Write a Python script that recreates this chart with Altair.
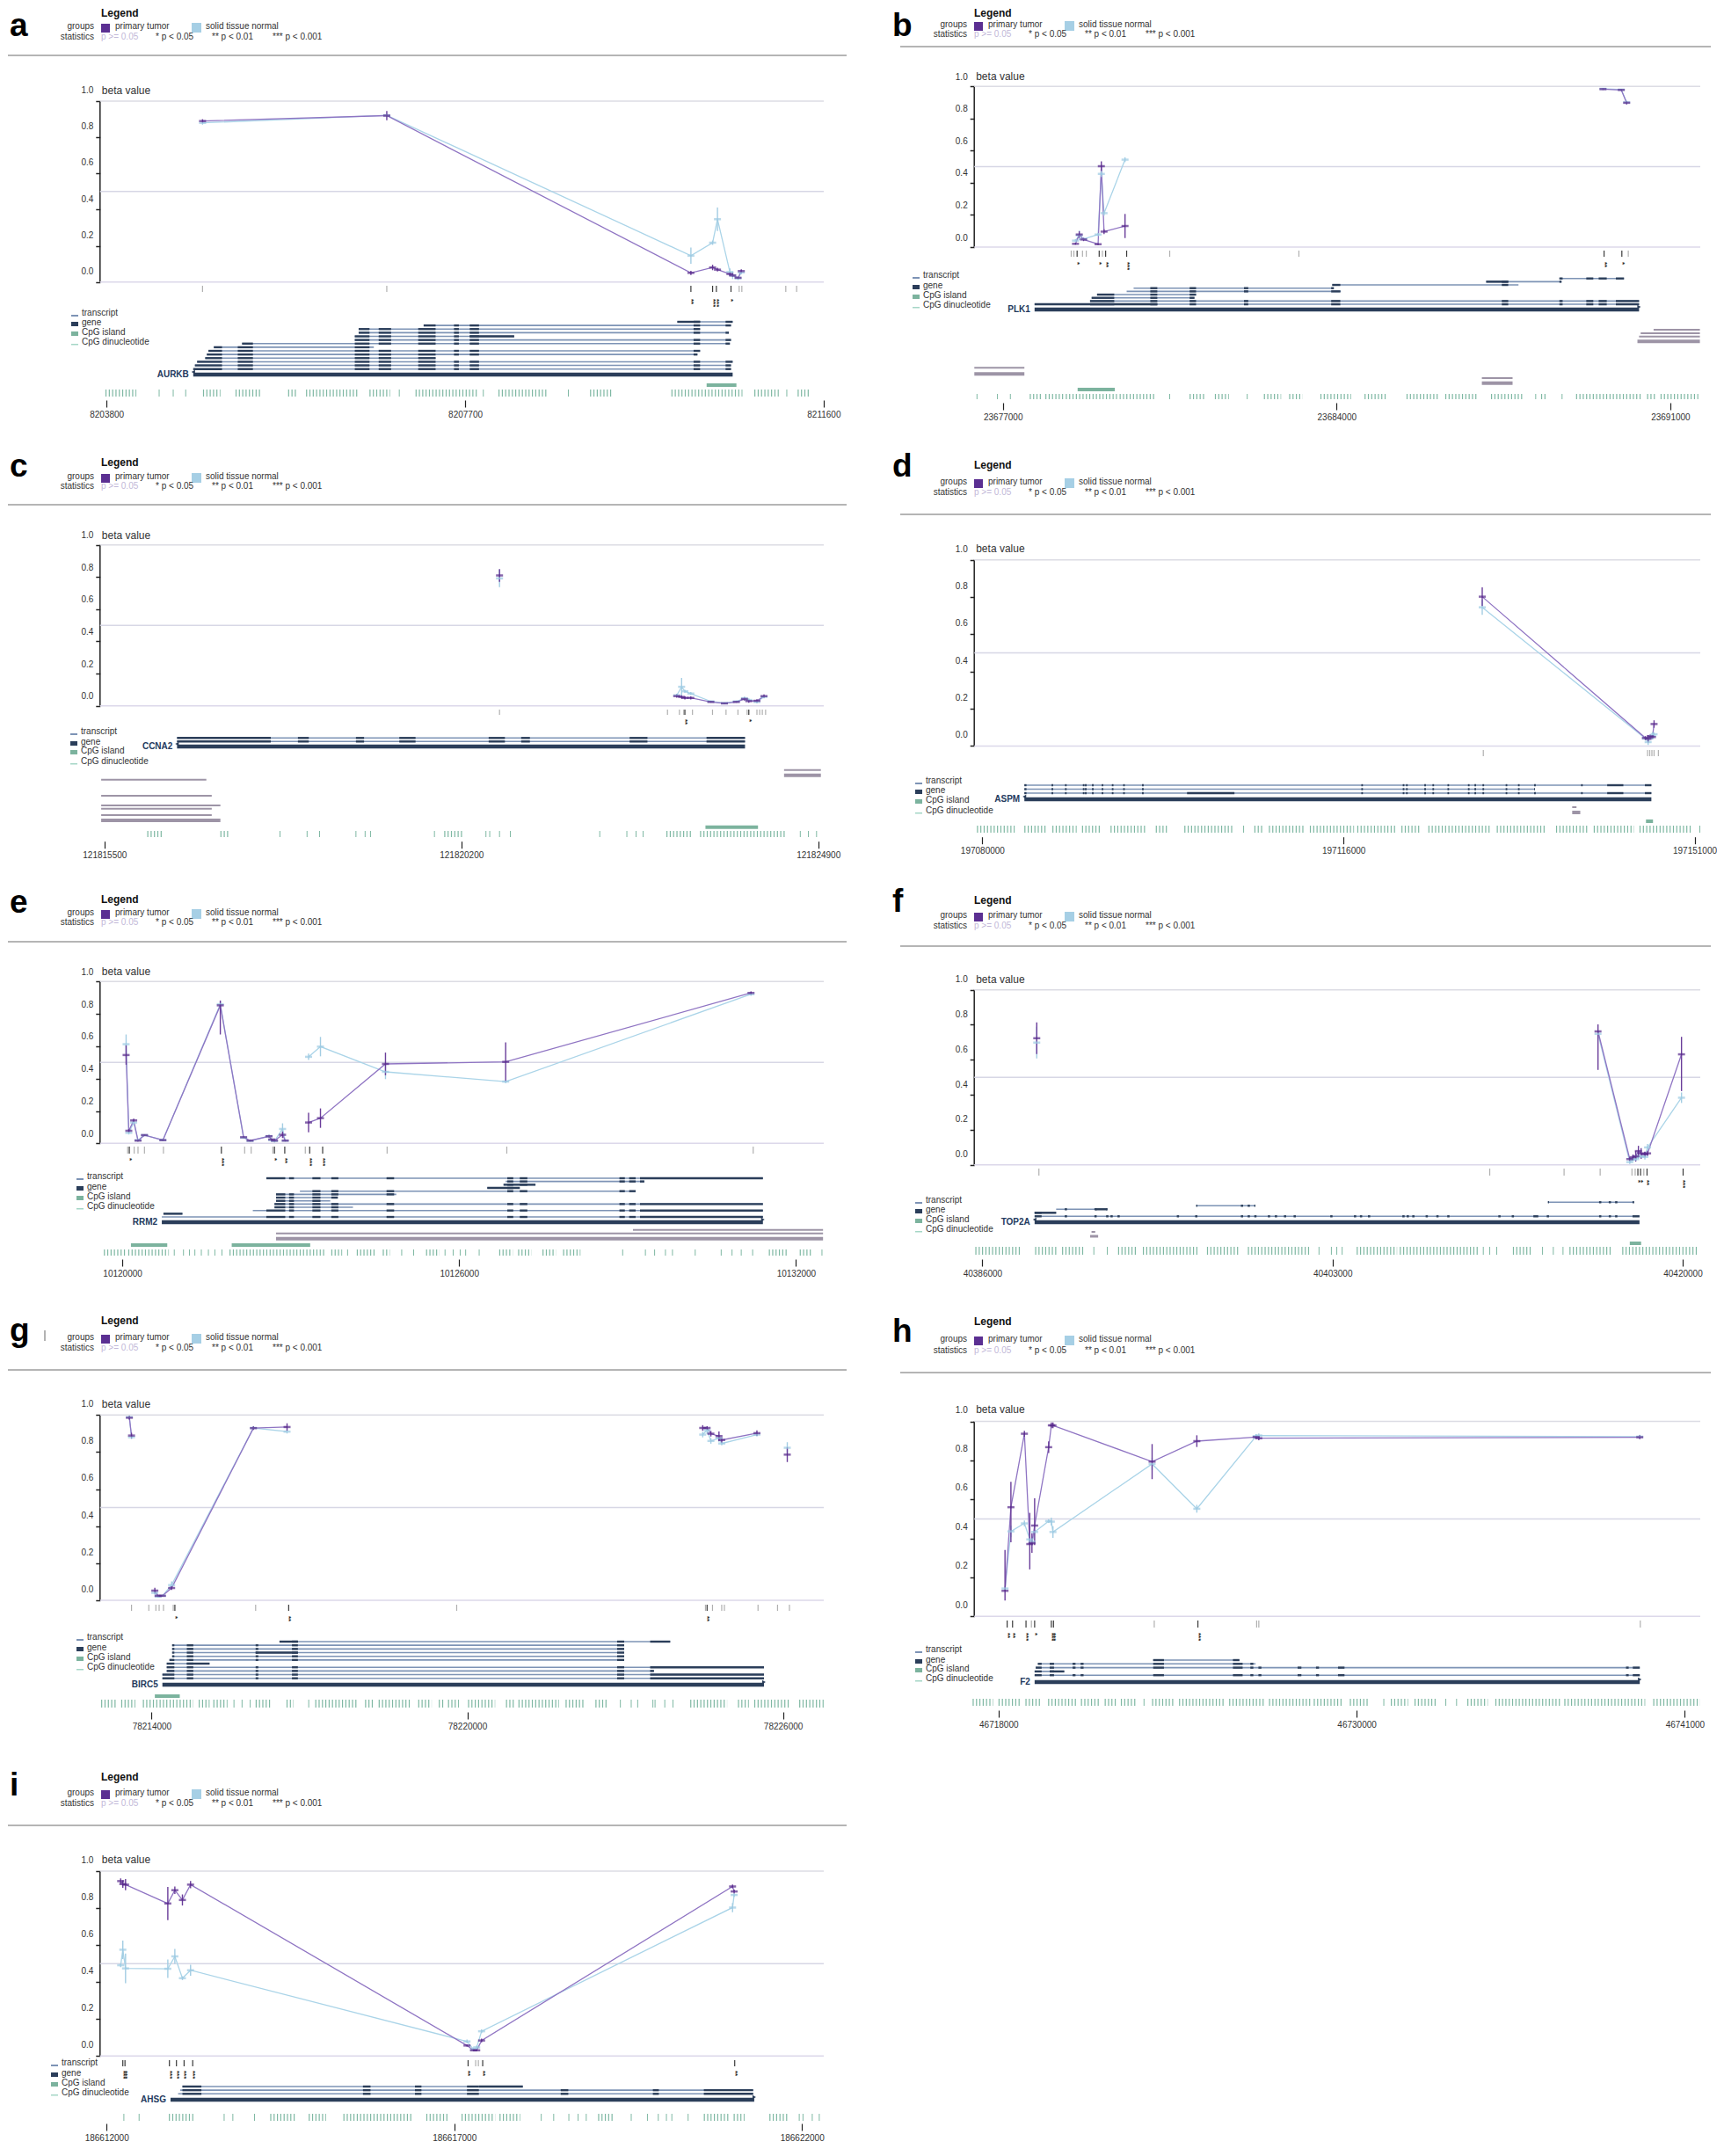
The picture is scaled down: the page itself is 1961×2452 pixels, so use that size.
import altair as alt
import pandas as pd

# ------------------------------------------------------------------ data
# panel a  AURKB
A_TICKS = [8203800, 8207700, 8211600]
A_POS = [8204844, 8206848, 8210156, 8210392, 8210445, 8210580, 8210610, 8210669, 8210704]
A_TUMOR = [0.83, 0.86, -0.01, 0.02, 0.008, -0.016, -0.024, -0.037, 0.0]
A_NORMAL = [0.82, 0.862, 0.085, 0.157, 0.287, -0.005, -0.024, -0.04, -0.008]
A_TUMOR_ERR = [0.01, 0.026, 0.012, 0.015, 0.01, 0.01, 0.008, 0.006, 0.01]
A_NORMAL_ERR = [0.01, 0.01, 0.045, 0.012, 0.065, 0.02, 0.02, 0.01, 0.01]
A_SEG = [1, 1, 1, 1, 1, 1, 1, 1, 1]
A_PROBES = [8204844, 8206848, 8210156, 8210392, 8210433, 8210592, 8210681, 8210710, 8211188, 8211306]
A_STARS = ['', '', '**', '***', '***', '*', '', '', '', '']
A_TX = [(8210008, 8210610), (8207249, 8210592), (8206542, 8210256), (8206542, 8210569), (8206500, 8208234),
        (8206500, 8210592), (8205274, 8210580), (8204967, 8206707), (8204908, 8210256), (8204891, 8210227),
        (8204873, 8207379), (8204785, 8210610), (8204761, 8210592), (8204743, 8210592)]
A_EXONS = [(8204743, 8205056), (8205227, 8205392), (8206500, 8206660), (8206760, 8206895), (8207190, 8207379),
           (8207579, 8207632), (8207750, 8207851), (8210185, 8210256), (8210533, 8210610)]
A_EXTRA = [(0, 8210008, 8210256), (4, 8207750, 8208234)]
A_GENE = (8204743, 8210610)
A_ISLANDS = [(8210327, 8210651)]
A_OTHER = []
A_CPG = [8204372, 8204525, 8204661, 8206984, 8207898, 8208823, 8211199]
A_CPG_RUNS = [(8203788, 8204124), (8204849, 8205038), (8205203, 8205492), (8205775, 8205881), (8205970, 8206542),
              (8206660, 8206884), (8207161, 8207839), (8208063, 8208593), (8209059, 8209295), (8209944, 8210716),
              (8210846, 8211111), (8211317, 8211447)]

# panel b  PLK1
B_TICKS = [23677000, 23684000, 23691000]
B_POS = [23678524, 23678603, 23678694, 23678998, 23679066, 23679123, 23679563, 23689588, 23689972, 23690085]
B_TUMOR = [-0.04, 0.018, -0.013, -0.042, 0.443, 0.036, 0.071, 0.923, 0.918, 0.838]
B_NORMAL = [-0.02, 0.013, -0.01, 0.018, 0.396, 0.151, 0.484, 0.925, 0.92, 0.841]
B_TUMOR_ERR = [0.005, 0.02, 0.01, 0.005, 0.03, 0.015, 0.075, 0.005, 0.005, 0.01]
B_NORMAL_ERR = [0.01, 0.03, 0.01, 0.01, 0.02, 0.015, 0.015, 0.005, 0.005, 0.01]
B_SEG = [1, 1, 1, 1, 1, 1, 1, 2, 2, 2]
B_PROBES = [23678434, 23678490, 23678558, 23678671, 23678750, 23679021, 23679089, 23679156, 23679597, 23680500,
            23683210, 23689611, 23689984, 23690119]
B_STARS = ['', '', '*', '', '', '*', '', '**', '***', '', '', '**', '*', '']
B_TX = [(23688674, 23690029), (23687138, 23688719), (23683909, 23687816), (23679743, 23683943), (23679597, 23684090),
        (23678976, 23681053), (23678863, 23681019), (23678829, 23690345), (23677666, 23690345)]
B_EXONS = [(23678829, 23679337), (23680093, 23680240), (23680918, 23681053), (23682058, 23682148), (23683887, 23684079),
           (23687466, 23687601), (23688674, 23688742), (23689238, 23689385), (23689498, 23689667), (23689859, 23690345)]
B_EXTRA = [(8, 23677666, 23680240), (1, 23687138, 23687601)]
B_GENE = (23677666, 23690345)
B_ISLANDS = [(23678569, 23679348)]
B_OTHER = [(23690650, 23691621, 0, 2), (23690379, 23691621, 1, 2), (23690345, 23691621, 2, 2), (23690311, 23691621, 3, 4),
           (23676402, 23677452, 4, 2), (23676402, 23677452, 5, 4), (23687048, 23687692, 6, 2), (23687048, 23687692, 7, 4)]
B_CPG = [23676458, 23676887, 23677158, 23680500, 23682126, 23688177, 23688730]
B_CPG_RUNS = [(23677565, 23677813), (23677892, 23678264), (23678321, 23679393), (23679450, 23680206), (23680918, 23681256),
              (23681448, 23681742), (23682476, 23682837), (23683006, 23683289), (23683661, 23684305), (23684587, 23685038),
              (23685468, 23686167), (23686280, 23686958), (23687240, 23687917), (23688290, 23688425), (23689024, 23690401),
              (23690514, 23690683), (23690796, 23691587)]

# panel c  CCNA2
C_TICKS = [121815500, 121820200, 121824900]
C_POS = [121820703, 121823037, 121823101, 121823144, 121823222, 121823486, 121823665, 121823822, 121823929,
         121823986, 121824093, 121824186]
C_TUMOR = [0.75, 0.0, -0.005, -0.011, -0.011, -0.036, -0.045, -0.036, -0.018, -0.031, -0.029, 0.0]
C_NORMAL = [0.732, 0.005, 0.058, 0.03, 0.016, -0.033, -0.044, -0.033, -0.013, -0.024, -0.036, -0.004]
C_TUMOR_ERR = [0.04, 0.01, 0.01, 0.01, 0.01, 0.005, 0.005, 0.005, 0.01, 0.01, 0.01, 0.01]
C_NORMAL_ERR = [0.055, 0.01, 0.055, 0.01, 0.01, 0.005, 0.005, 0.005, 0.01, 0.01, 0.01, 0.01]
C_SEG = [1, 2, 2, 2, 2, 2, 2, 2, 2, 2, 2, 2]
C_PROBES = [121820703, 121822915, 121823072, 121823129, 121823144, 121823244, 121823508, 121823686, 121823843,
            121823964, 121823986, 121824093, 121824129, 121824164, 121824207]
C_STARS = ['', '', '', '', '**', '', '', '', '', '', '*', '', '', '', '']
C_TX = [(121816456, 121823936), (121816456, 121823936)]
C_EXONS = [(121816456, 121817691), (121818048, 121818191), (121818812, 121818919), (121819383, 121819597),
           (121820560, 121820774), (121820988, 121821103), (121822416, 121822651), (121823429, 121823936)]
C_EXTRA = []
C_GENE = (121816456, 121823936)
C_ISLANDS = [(121823415, 121824107)]
C_OTHER = [(121824450, 121824935, 0, 2), (121824450, 121824935, 1, 4), (121815457, 121816842, 2, 2),
           (121815457, 121816913, 3, 2), (121815457, 121817027, 4, 2), (121815457, 121816913, 5, 2),
           (121815457, 121816913, 6, 2), (121815457, 121817027, 7, 4)]
C_CPG = [121817812, 121818169, 121818333, 121818812, 121818933, 121819004, 121819846, 121820524, 121820574,
         121820703, 121820846, 121822023, 121822380, 121822501, 121822594, 121824664, 121824771, 121824878]
C_CPG_RUNS = [(121816064, 121816278), (121817027, 121817134), (121819975, 121820239), (121822901, 121823237),
              (121823344, 121824464)]

# panel d  ASPM
D_TICKS = [197080000, 197116000, 197151000]
D_POS = [197129834, 197146105, 197146373, 197146588, 197146803, 197146964]
D_TUMOR = [0.742, -0.017, -0.021, -0.008, -0.012, 0.058]
D_NORMAL = [0.685, -0.02, -0.039, -0.017, -0.005, 0.003]
D_TUMOR_ERR = [0.05, 0.01, 0.02, 0.01, 0.01, 0.02]
D_NORMAL_ERR = [0.04, 0.01, 0.015, 0.01, 0.02, 0.01]
D_SEG = [1, 1, 1, 1, 1, 1]
D_PROBES = [197129941, 197146319, 197146534, 197146749, 197146964, 197147394]
D_STARS = ['', '', '', '', '', '']
D_TX = [(197084189, 197146695), (197084189, 197135096), (197084189, 197146695)]
D_EXONS = [(197084189, 197084400), (197086900, 197087060), (197088240, 197088400), (197090020, 197090180),
           (197090230, 197090390), (197090930, 197091090), (197091900, 197092060), (197092910, 197093070),
           (197094040, 197094200), (197095920, 197096080), (197117780, 197117940), (197121910, 197122070),
           (197122240, 197122400), (197124060, 197124220), (197124870, 197125030), (197126370, 197126530),
           (197128410, 197128570), (197129060, 197129220), (197129860, 197130020), (197132170, 197132330),
           (197133400, 197133560), (197135010, 197135170), (197139690, 197139850), (197142292, 197143903),
           (197146051, 197146695)]
D_EXTRA = [(2, 197100406, 197105132)]
D_GENE = (197084189, 197146695)
D_ISLANDS = [(197146158, 197146857)]
D_OTHER = [(197138802, 197139231, 0, 2), (197138802, 197139607, 1, 4)]
D_CPG = [197106045, 197151528]
D_CPG_RUNS = [(197079463, 197083222), (197084189, 197086444), (197086981, 197089398), (197089935, 197091814),
              (197092781, 197096379), (197097291, 197098527), (197100138, 197105132), (197107119, 197108031),
              (197108568, 197112220), (197112650, 197117053), (197117375, 197121349), (197121779, 197123604),
              (197124464, 197130747), (197131284, 197136278), (197137191, 197140413), (197140950, 197144977),
              (197145514, 197150616)]

# panel e  RRM2
E_TICKS = [10120000, 10126000, 10132000]
E_POS = [10120068, 10120116, 10120203, 10120280, 10120395, 10120723, 10121746, 10122161, 10122276, 10122614,
         10122662, 10122711, 10122855, 10122903, 10123318, 10123530, 10124688, 10126829, 10131199]
E_TUMOR = [0.486, 0.018, 0.082, -0.043, -0.009, -0.04, 0.793, -0.022, -0.043, -0.016, -0.036, -0.043, -0.007,
           -0.043, 0.069, 0.096, 0.431, 0.444, 0.87]
E_NORMAL = [0.553, 0.005, 0.069, -0.04, -0.009, -0.04, 0.80, -0.025, -0.045, -0.015, -0.04, -0.045, 0.029,
            -0.043, 0.475, 0.538, 0.382, 0.322, 0.862]
E_TUMOR_ERR = [0.06, 0.01, 0.01, 0.005, 0.005, 0.005, (0.18, 0.03), 0.005, 0.005, 0.008, 0.005, 0.005, 0.02,
               0.005, 0.06, 0.06, 0.07, 0.12, 0.01]
E_NORMAL_ERR = [0.06, 0.01, 0.01, 0.005, 0.005, 0.005, 0.02, 0.005, 0.005, 0.008, 0.01, 0.01, 0.035, 0.005,
                0.02, 0.06, 0.045, 0.01, 0.01]
E_SEG = [1, 1, 1, 1, 1, 1, 1, 1, 1, 1, 1, 1, 1, 1, 2, 2, 2, 2, 2]
E_PROBES = [10120096, 10120125, 10120212, 10120280, 10120395, 10120733, 10121765, 10122180, 10122296, 10122682,
            10122711, 10122894, 10123260, 10123338, 10123569, 10124717, 10126849, 10131238]
E_STARS = ['', '*', '', '', '', '', '***', '', '', '', '*', '**', '', '***', '***', '', '', '']
E_TX = [(10122566, 10131411), (10126829, 10129299), (10126791, 10127360), (10126501, 10127080), (10123164, 10129144),
        (10122739, 10124881), (10122739, 10123839), (10122739, 10123704), (10122711, 10131411), (10122711, 10124109),
        (10122325, 10131411), (10120733, 10121071), (10120704, 10131411)]
E_EXONS = [(10122566, 10122903), (10122971, 10123058), (10123386, 10123530), (10123723, 10123849), (10124707, 10124842),
           (10126858, 10126964), (10127080, 10127215), (10128855, 10128952), (10129029, 10129144), (10129222, 10131411)]
E_EXTRA = [(11, 10120733, 10121071), (2, 10126791, 10127360), (3, 10126501, 10127080)]
E_GENE = (10120704, 10131411)
E_ISLANDS = [(10120154, 10120801), (10121949, 10123347)]
E_OTHER = [(10129096, 10132482, 0, 2), (10122739, 10132482, 1, 2), (10122739, 10132482, 2, 4)]
E_CPG = [10120926, 10121090, 10121196, 10121293, 10121408, 10121534, 10121649, 10121775, 10124013, 10124977,
         10125190, 10125749, 10125894, 10126019, 10126116, 10126357, 10128913, 10129318, 10129482, 10129675,
         10129800, 10130205, 10130668, 10130861, 10131025, 10131228, 10132463]
E_CPG_RUNS = [(10119672, 10120058), (10120106, 10120830), (10121910, 10123627), (10123723, 10123916),
              (10124177, 10124495), (10124640, 10124765), (10125411, 10125652), (10126714, 10126955),
              (10127051, 10127292), (10127485, 10127726), (10127852, 10128161), (10131517, 10131874),
              (10132067, 10132279)]

# panel f  TOP2A
F_TICKS = [40386000, 40403000, 40420000]
F_POS = [40388641, 40415889, 40417432, 40417589, 40417720, 40417851, 40417982, 40418165, 40418296, 40419943]
F_TUMOR = [0.663, 0.702, -0.028, -0.017, -0.012, 0.018, 0.005, 0.0, 0.005, 0.571]
F_NORMAL = [0.638, 0.688, -0.045, -0.03, -0.028, -0.012, -0.012, -0.015, 0.039, 0.323]
F_TUMOR_ERR = [0.09, (0.22, 0.04), 0.01, 0.015, 0.03, 0.03, 0.03, 0.015, 0.015, (0.21, 0.1)]
F_NORMAL_ERR = [0.09, 0.02, 0.01, 0.01, 0.01, 0.015, 0.015, 0.015, 0.02, 0.03]
F_SEG = [1, 2, 2, 2, 2, 2, 2, 2, 2, 2]
F_PROBES = [40388746, 40410633, 40414242, 40415994, 40417537, 40417694, 40417825, 40417956, 40418113, 40418269,
            40420021]
F_STARS = ['', '', '', '', '', '', '*', '*', '', '**', '***']
F_TX = [(40413458, 40417642), (40396382, 40399258), (40389583, 40392067), (40388537, 40389583), (40388537, 40417903)]
F_EXONS = [(40388537, 40388877), (40390000, 40390110), (40391440, 40391550), (40392010, 40392120), (40392220, 40392330),
           (40392560, 40392670), (40395440, 40395550), (40396330, 40396440), (40398550, 40398660), (40398880, 40398990),
           (40399200, 40399310), (40399860, 40399970), (40400200, 40400310), (40400640, 40400750), (40401110, 40401220),
           (40402890, 40403000), (40404040, 40404150), (40404330, 40404440), (40404720, 40404830), (40406390, 40406500),
           (40406600, 40406710), (40406870, 40406980), (40407520, 40407630), (40408040, 40408150), (40408570, 40408680),
           (40411050, 40411160), (40411700, 40411810), (40412750, 40412990), (40413400, 40413510), (40415940, 40416050),
           (40416410, 40416520), (40416720, 40416830), (40417564, 40417903)]
F_EXTRA = [(2, 40391492, 40392067), (3, 40388537, 40389583)]
F_GENE = (40388537, 40417903)
F_ISLANDS = [(40417432, 40417982)]
F_OTHER = [(40391300, 40391480, 0, 2), (40391230, 40391622, 1, 3)]
F_CPG = [40391413, 40392067, 40402344, 40402945, 40403207, 40403468, 40410320, 40410633, 40410973, 40413196,
         40413719, 40414190]
F_CPG_RUNS = [(40385660, 40387831), (40388563, 40389661), (40389870, 40390969), (40392590, 40393453),
              (40393793, 40396460), (40396905, 40398421), (40398892, 40401952), (40404174, 40406136),
              (40406266, 40410058), (40411758, 40412621), (40414504, 40416596), (40417066, 40420780)]

# panel g  BIRC5
G_TICKS = [78214000, 78220000, 78226000]
G_POS = [78213578, 78213619, 78214062, 78214124, 78214206, 78214381, 78215936, 78216575, 78224475, 78224558,
         78224630, 78224784, 78224836, 78225505, 78226082]
G_TUMOR = [0.925, 0.829, -0.008, -0.036, -0.036, 0.006, 0.869, 0.875, 0.87, 0.87, 0.839, 0.826, 0.805, 0.842, 0.726]
G_NORMAL = [0.928, 0.82, -0.02, -0.04, -0.036, 0.022, 0.87, 0.85, 0.834, 0.858, 0.80, 0.815, 0.786, 0.834, 0.763]
G_TUMOR_ERR = [0.01, 0.015, 0.015, 0.005, 0.005, 0.01, 0.01, 0.02, 0.015, 0.01, 0.015, 0.025, 0.015, 0.015, 0.04]
G_NORMAL_ERR = [0.01, 0.01, 0.01, 0.005, 0.005, 0.02, 0.01, 0.01, 0.015, 0.02, 0.015, 0.02, 0.01, 0.01, 0.03]
G_SEG = [1, 1, 2, 2, 2, 2, 2, 2, 3, 3, 3, 3, 3, 3, 4]
G_PROBES = [78213619, 78213948, 78214082, 78214144, 78214227, 78214412, 78214443, 78215978, 78216606, 78219799,
            78224527, 78224558, 78224661, 78224836, 78224887, 78225526, 78225897, 78226123]
G_STARS = ['', '', '', '', '', '', '*', '', '**', '', '', '**', '', '', '', '', '', '']
G_TX = [(78216431, 78223857), (78214391, 78222982), (78214391, 78222982), (78214391, 78222982), (78214391, 78222982),
        (78214340, 78222982), (78214288, 78215102), (78214288, 78225639), (78214288, 78223548), (78214206, 78225639),
        (78214206, 78225639)]
G_EXONS = [(78214206, 78214433), (78214670, 78214793), (78215978, 78216029), (78216668, 78216781),
           (78222848, 78222982), (78223476, 78225639)]
G_EXTRA = [(0, 78216431, 78216781), (3, 78215978, 78216781), (6, 78214670, 78215102)]
G_GENE = (78214206, 78225639)
G_ISLANDS = [(78214062, 78214536)]
G_OTHER = []
G_CPG = [78215566, 78215720, 78215875, 78216987, 78222910, 78223116, 78223239, 78223528, 78223569, 78223754,
         78223909]
G_CPG_RUNS = [(78213042, 78213320), (78213423, 78213691), (78213835, 78214793), (78214896, 78215102),
              (78215174, 78215442), (78215978, 78216256), (78216565, 78216699), (78217111, 78217935),
              (78218058, 78218223), (78218316, 78218913), (78219068, 78219325), (78219459, 78219562),
              (78219634, 78219840), (78220015, 78220530), (78220736, 78220901), (78220973, 78221746),
              (78221869, 78222230), (78222436, 78222673), (78224238, 78224939), (78225145, 78225351),
              (78225454, 78226123), (78226309, 78226772)]

# panel h  F2
H_TICKS = [46718000, 46730000, 46741000]
H_POS = [46718217, 46718415, 46718867, 46719047, 46719120, 46719210, 46719680, 46719770, 46719824, 46723147,
         46724646, 46726633, 46726723, 46739491]
H_TUMOR = [0.071, 0.50, 0.877, 0.311, 0.316, 0.406, 0.808, 0.92, 0.92, 0.734, 0.839, 0.86, 0.854, 0.859]
H_NORMAL = [0.083, 0.376, 0.417, 0.335, 0.323, 0.373, 0.429, 0.426, 0.373, 0.722, 0.492, 0.865, 0.868, 0.862]
H_TUMOR_ERR = [(0.05, 0.21), (0.18, 0.13), 0.015, (0.13, 0.16), 0.05, (0.1, 0.14), 0.03, 0.015, 0.015, 0.09,
               0.03, 0.01, 0.01, 0.01]
H_NORMAL_ERR = [0.01, 0.03, 0.015, 0.02, 0.02, 0.01, 0.01, 0.02, 0.03, 0.03, 0.02, 0.01, 0.01, 0.01]
H_SEG = [1, 1, 1, 1, 1, 1, 1, 1, 1, 1, 1, 1, 1, 1]
H_PROBES = [46718289, 46718470, 46718921, 46719102, 46719210, 46719770, 46719842, 46723219, 46724682, 46726651,
            46726723, 46739509]
H_STARS = ['**', '**', '***', '', '*', '***', '***', '', '***', '', '', '']
H_TX = [(46723183, 46726073), (46719318, 46726615), (46719246, 46739491), (46719210, 46720203), (46719210, 46739491)]
H_EXONS = [(46719210, 46719445), (46719716, 46719860), (46720480, 46720580), (46720750, 46720850), (46723183, 46723544),
           (46725856, 46726181), (46726440, 46726540), (46726710, 46726810), (46728023, 46728150), (46728640, 46728740),
           (46729378, 46729595), (46739030, 46739120), (46739257, 46739491)]
H_EXTRA = [(3, 46719716, 46720203)]
H_GENE = (46719210, 46739491)
H_ISLANDS = []
H_OTHER = []
H_CPG = [46722876, 46730913, 46732990, 46733351]
H_CPG_RUNS = [(46717133, 46717819), (46718000, 46718759), (46718903, 46719445), (46719662, 46720619),
              (46720763, 46721431), (46721558, 46721973), (46722100, 46722605), (46723147, 46723924),
              (46724050, 46725585), (46725730, 46726886), (46727066, 46728475), (46728565, 46729558),
              (46729775, 46730425), (46731148, 46731726), (46731942, 46732719), (46733712, 46734398),
              (46734651, 46736819), (46736963, 46739672), (46739943, 46741514)]

# panel i  AHSG
I_TICKS = [186612000, 186617000, 186622000]
I_POS = [186612203, 186612234, 186612273, 186612881, 186612982, 186613091, 186613208, 186617183, 186617277,
         186617323, 186617393, 186621002, 186621025]
I_TUMOR = [0.886, 0.87, 0.867, 0.765, 0.837, 0.784, 0.867, -0.003, -0.029, -0.029, 0.024, 0.857, 0.83]
I_NORMAL = [0.431, 0.515, 0.414, 0.412, 0.479, 0.361, 0.404, 0.019, -0.024, -0.013, 0.074, 0.743, 0.811]
I_TUMOR_ERR = [0.015, 0.02, 0.03, 0.09, 0.02, 0.03, 0.02, 0.005, 0.005, 0.005, 0.01, 0.01, 0.01]
I_NORMAL_ERR = [0.01, 0.05, 0.08, 0.05, 0.04, 0.01, 0.03, 0.01, 0.01, 0.01, 0.01, 0.025, 0.01]
I_SEG = [1, 1, 1, 1, 1, 1, 1, 1, 1, 1, 1, 1, 1]
I_PROBES = [186612234, 186612265, 186612904, 186613005, 186613115, 186613239, 186617199, 186617308, 186617347,
            186617409, 186621033]
I_STARS = ['***', '***', '***', '***', '***', '***', '**', '', '', '**', '**']
I_TX = [(186613091, 186617986), (186613060, 186621298), (186613029, 186621298)]
I_EXONS = [(186613091, 186613364), (186615687, 186615796), (186616435, 186616528), (186617183, 186617354),
           (186618531, 186618640), (186619856, 186619942), (186620589, 186621298)]
I_EXTRA = [(0, 186617354, 186617986)]
I_GENE = (186612920, 186621314)
I_ISLANDS = []
I_OTHER = []
I_CPG = [186612249, 186612468, 186613691, 186613816, 186614128, 186618251, 186618430, 186618648, 186618781,
         186618898, 186619545, 186619778, 186619934, 186620051, 186620129, 186620363, 186621961, 186622015,
         186622148, 186622249]
I_CPG_RUNS = [(186612896, 186613247), (186614354, 186614728), (186614907, 186615157), (186615406, 186616404),
              (186616598, 186616910), (186617105, 186617588), (186617651, 186617947), (186619069, 186619287),
              (186620589, 186620963), (186621018, 186621174), (186621532, 186621820)]

# ------------------------------------------------------------------ layout (pixels inside each panel)
ROW_H = [502, 495, 490, 510, 431]
W1, W2 = 985, 952
COL1 = dict(W=W1, letter_x=2, leg_x=106, sep_x0=0, sep_x1=954, yaxis_x=104.8, right_x=928)
COL2 = dict(W=W2, letter_x=21, leg_x=114, sep_x0=30, sep_x1=W2, yaxis_x=114.2, right_x=940)

LAYOUT = {
    'a': dict(COL1, H=ROW_H[0], letter_y=33, leg_y=7, grp_y=22, stat_y=34, sep_y=55, y0=300.3, s=205.6,
              xlo=112.2, xhi=927.9, probe=(317, 324), star_y=332, tl_x=72, tl_y=[348, 359, 370, 381],
              tx_y0=358, tx_step=4.13, gene_y=418, lanes=[], isl_y=430, cpg=(435, 443), axis_y=447,
              strand='left', name='AURKB'),
    'b': dict(COL2, H=ROW_H[0], letter_y=33, leg_y=7, grp_y=20, stat_y=31, sep_y=45, y0=262, s=182.7,
              xlo=146.7, xhi=905.9, probe=(277, 284), star_y=290, tl_x=44, tl_y=[305, 317, 328, 339],
              tx_y0=308.7, tx_step=3.67, gene_y=344,
              lanes=[367, 371, 374.7, 380.3, 410.3, 417.3, 422, 427.7], isl_y=435, cpg=(440, 446), axis_y=450,
              strand='right', name='PLK1'),
    'c': dict(COL1, H=ROW_H[1], letter_y=31.7, leg_y=16, grp_y=32, stat_y=43, sep_y=64, y0=281.7, s=183,
              xlo=109.8, xhi=921.7, probe=(297, 303), star_y=308, tl_x=71, tl_y=[322, 334, 344, 356],
              tx_y0=329.3, tx_step=4, gene_y=339, lanes=[365.7, 371.7, 376.7, 395, 406, 409.7, 417, 423],
              isl_y=430.7, cpg=(435, 442), axis_y=446.7, strand='left', name='CCNA2'),
    'd': dict(COL2, H=ROW_H[1], letter_y=31.7, leg_y=19, grp_y=38, stat_y=50, sep_y=75, y0=325.7, s=211.7,
              xlo=123.4, xhi=933.5, probe=(343, 350), star_y=355, tl_x=47, tl_y=[378, 389, 400, 412],
              tx_y0=383, tx_step=4.5, gene_y=399, lanes=[408, 414], isl_y=424, cpg=(429, 437), axis_y=441.7,
              strand='left', name='ASPM'),
    'e': dict(COL1, H=ROW_H[2], letter_y=33, leg_y=18, grp_y=33, stat_y=44, sep_y=66, y0=284.3, s=184,
              xlo=130.1, xhi=896.4, probe=(299, 307), star_y=312, tl_x=78, tl_y=[333, 345, 356, 367],
              tx_y0=335, tx_step=3.67, gene_y=385, lanes=[393.7, 397.7, 403.7], isl_y=411, cpg=(416, 423),
              axis_y=427, strand='right', name='RRM2'),
    'f': dict(COL2, H=ROW_H[2], letter_y=32, leg_y=19, grp_y=36, stat_y=48, sep_y=71, y0=307.7, s=199,
              xlo=123.4, xhi=920.0, probe=(324, 332), star_y=337, tl_x=47, tl_y=[360, 371, 382, 393],
              tx_y0=362.3, tx_step=4, gene_y=385, lanes=[396, 401], isl_y=409, cpg=(413, 422), axis_y=427,
              strand='left', name='TOP2A'),
    'g': dict(COL1, H=ROW_H[3], letter_y=30, leg_y=7, grp_y=26, stat_y=38, sep_y=63, y0=312.3, s=210.7,
              xlo=163.4, xhi=881.6, probe=(330, 337), star_y=343, tl_x=78, tl_y=[367, 379, 390, 401],
              tx_y0=372, tx_step=4.17, gene_y=421, lanes=[], isl_y=434, cpg=(438, 447), axis_y=452,
              strand='right', name='BIRC5', bar=(42, 18, 30)),
    'h': dict(COL2, H=ROW_H[3], letter_y=31, leg_y=8, grp_y=28, stat_y=41, sep_y=66, y0=330, s=221.7,
              xlo=141.8, xhi=922.4, probe=(348, 356), star_y=362, tl_x=47, tl_y=[381, 393, 403, 414],
              tx_y0=393, tx_step=4.3, gene_y=418, lanes=[], isl_y=430, cpg=(437, 445), axis_y=450,
              strand='right', name='F2'),
    'i': dict(COL1, H=ROW_H[4], letter_y=36.7, leg_y=16, grp_y=34, stat_y=46, sep_y=71, y0=320.7, s=210.3,
              xlo=112.2, xhi=903.2, probe=(338, 345), star_y=350, tl_x=49, tl_y=[341, 353, 364, 375],
              tx_y0=368, tx_step=4.15, gene_y=383, lanes=[], isl_y=395, cpg=(399, 407), axis_y=410,
              strand='right', name='AHSG'),
}

TUMOR_LINE, NORMAL_LINE = '#8f74c3', '#aad4e8'
TUMOR_ERR_C, NORMAL_ERR_C = '#6a3d9a', '#a3cde3'
TUMOR_MARK, NORMAL_MARK = '#55278a', '#9ccbe2'
TX_C, GENE_C = '#7d93b5', '#2b3e5a'
ISL_C, CPG_C = '#7cb39e', '#7fb8a3'
OTHER_C = '#9d94a6'

ONE = pd.DataFrame({'o': [0]})


def lohi(vals, errs):
    lo, hi = [], []
    for v, e in zip(vals, errs):
        dn, up = e if isinstance(e, tuple) else (e, e)
        lo.append(v - dn)
        hi.append(v + up)
    return lo, hi


def build(letter, pos, tum, nor, terr, nerr, seg, probes, stars, tx, exons, extra, gene, islands, other,
          cpg, cpg_runs, ticks):
    L = LAYOUT[letter]
    W, H = L['W'], L['H']
    bpp = (ticks[2] - ticks[0]) / (L['xhi'] - L['xlo'])
    xdom = [ticks[0] - L['xlo'] * bpp, ticks[0] + (W - L['xlo']) * bpp]
    zy, s = L['y0'], L['s']

    def bv(py):
        return (zy - py) / s

    XS = alt.Scale(domain=xdom, nice=False, zero=False)
    YS = alt.Scale(domain=[bv(H), bv(0)], nice=False, zero=False)

    def X(f, axis=None):
        return alt.X(f, type='quantitative', scale=XS, axis=axis)

    def Y(f, axis=None):
        return alt.Y(f, type='quantitative', scale=YS, axis=axis)

    layers = []

    def txt(t, x, y, size=10, color='#333', weight='normal', align='left', baseline='middle'):
        layers.append(alt.Chart(ONE).mark_text(text=t, fontSize=size, color=color, fontWeight=weight,
                                               align=align, baseline=baseline)
                      .encode(x=alt.value(x), y=alt.value(y)))

    def box(x0, x1, y0, y1, color):
        layers.append(alt.Chart(ONE).mark_rect(color=color)
                      .encode(x=alt.value(x0), x2=alt.value(x1), y=alt.value(y0), y2=alt.value(y1)))

    # ---- axes first (genomic x axis, beta y axis)
    c0, c1 = L['cpg']
    xaxis = alt.Axis(values=ticks, format='d', orient='bottom', offset=-(H - L['axis_y']), domain=False,
                     grid=False, tickSize=8, tickColor='#222', tickWidth=1.2, labelFontSize=10,
                     labelColor='#333', labelPadding=3, title=None, labelFlush=False)
    layers.append(alt.Chart(pd.DataFrame({'pos': cpg})).mark_rule(color=CPG_C, strokeWidth=1)
                  .encode(x=X('pos', axis=xaxis), y=alt.value(c0), y2=alt.value(c1)))
    yaxis = alt.Axis(values=[-0.06, 0.14, 0.34, 0.54, 0.74, 0.94], orient='left',
                     labelExpr="format(datum.value + 0.06, '.1f')", labelOffset=-0.06 * s,
                     offset=-L['yaxis_x'], domain=False, grid=False, tickSize=5, tickColor='#222',
                     tickWidth=1.5, labelFontSize=10, labelColor='#333', labelPadding=3, title=None)
    layers.append(alt.Chart(pd.DataFrame({'a': [-0.06], 'b': [0.94]})).mark_rule(color='#222', strokeWidth=1.5)
                  .encode(x=alt.value(L['yaxis_x']), y=Y('a', axis=yaxis), y2='b'))

    # ---- header
    lx = L['leg_x']
    txt(letter, L['letter_x'], L['letter_y'], size=37, color='#000', weight='bold', baseline='alphabetic')
    txt('Legend', lx, L['leg_y'], size=12, color='#111', weight='bold')
    g_y, st_y = L['grp_y'], L['stat_y']
    txt('groups', lx - 8, g_y, align='right')
    box(lx, lx + 10, g_y - 3, g_y + 7, '#5b2f92')
    txt('primary tumor', lx + 16, g_y)
    box(lx + 103, lx + 114, g_y - 4, g_y + 7, '#a6cfe5')
    txt('solid tissue normal', lx + 119, g_y)
    txt('statistics', lx - 8, st_y, align='right')
    txt('p >= 0.05', lx, st_y, color='#c2b8d8')
    txt('* p < 0.05', lx + 62, st_y)
    txt('** p < 0.01', lx + 126, st_y)
    txt('*** p < 0.001', lx + 195, st_y)
    if 'bar' in L:
        bx, by0, by1 = L['bar']
        layers.append(alt.Chart(ONE).mark_rule(color='#666', strokeWidth=1)
                      .encode(x=alt.value(bx), y=alt.value(by0), y2=alt.value(by1)))
    layers.append(alt.Chart(ONE).mark_rule(color='#b5b5b5', strokeWidth=2)
                  .encode(x=alt.value(L['sep_x0']), x2=alt.value(L['sep_x1']), y=alt.value(L['sep_y'])))

    # ---- beta frame
    grid = pd.DataFrame({'v': [0.94, 0.44, -0.06], 'c': ['#dcdce4', '#d7d7e5', '#dcd8ea']})
    layers.append(alt.Chart(grid).mark_rule(strokeWidth=1.5)
                  .encode(y=Y('v'), x=alt.value(L['yaxis_x']), x2=alt.value(L['right_x']),
                          color=alt.Color('c:N', scale=None)))
    txt('beta value', L['yaxis_x'] + 2, zy - s, size=12)

    # ---- beta data
    tlo, thi = lohi(tum, terr)
    nlo, nhi = lohi(nor, nerr)
    df = pd.DataFrame({'pos': pos, 'tum': tum, 'nor': nor, 'seg': seg,
                       'tlo': tlo, 'thi': thi, 'nlo': nlo, 'nhi': nhi})
    base = alt.Chart(df)
    layers.append(base.mark_line(color=NORMAL_LINE, strokeWidth=1.3)
                  .encode(x=X('pos'), y=Y('nor'), detail='seg:N'))
    layers.append(base.mark_line(color=TUMOR_LINE, strokeWidth=1.3)
                  .encode(x=X('pos'), y=Y('tum'), detail='seg:N'))
    layers.append(base.mark_rule(color=NORMAL_ERR_C, strokeWidth=1.4).encode(x=X('pos'), y=Y('nlo'), y2='nhi'))
    layers.append(base.mark_rule(color=TUMOR_ERR_C, strokeWidth=1.4).encode(x=X('pos'), y=Y('tlo'), y2='thi'))
    layers.append(base.mark_tick(orient='horizontal', size=8, thickness=2.5, color=NORMAL_MARK)
                  .encode(x=X('pos'), y=Y('nor')))
    layers.append(base.mark_tick(orient='horizontal', size=8, thickness=2.5, color=TUMOR_MARK)
                  .encode(x=X('pos'), y=Y('tum')))

    # ---- probes and significance
    pr = pd.DataFrame({'pos': probes, 'txt': stars,
                       'col': ['#3a3a3a' if t else '#b0b0b0' for t in stars]})
    p0, p1 = L['probe']
    layers.append(alt.Chart(pr).mark_rule(strokeWidth=1.2)
                  .encode(x=X('pos'), y=alt.value(p0), y2=alt.value(p1), color=alt.Color('col:N', scale=None)))
    sig = pr[pr['txt'] != '']
    if len(sig):
        layers.append(alt.Chart(sig).mark_text(angle=90, align='left', baseline='middle', fontSize=8,
                                               color='#222', fontWeight='bold')
                      .encode(x=X('pos'), y=alt.value(L['star_y']), text='txt:N'))

    # ---- track legend
    tl, ty = L['tl_x'], L['tl_y']
    box(tl, tl + 8, ty[0] + 2, ty[0] + 4, TX_C)
    txt('transcript', tl + 12, ty[0])
    box(tl, tl + 8, ty[1] - 1, ty[1] + 4, GENE_C)
    txt('gene', tl + 12, ty[1])
    box(tl, tl + 8, ty[2] - 1, ty[2] + 4, ISL_C)
    txt('CpG island', tl + 12, ty[2])
    box(tl, tl + 8, ty[3] + 2, ty[3] + 3.5, '#a5d6c6')
    txt('CpG dinucleotide', tl + 12, ty[3])

    # ---- transcripts
    rows_y = [bv(L['tx_y0'] + i * L['tx_step']) for i in range(len(tx))]
    tdf = pd.DataFrame({'st': [t[0] for t in tx], 'en': [t[1] for t in tx], 'y': rows_y})
    layers.append(alt.Chart(tdf).mark_rule(color=TX_C, strokeWidth=1.6).encode(x=X('st'), x2='en', y=Y('y')))
    ex = []
    for i, (a, b) in enumerate(tx):
        for (es, ee) in exons:
            lo_, hi_ = max(a, es), min(b, ee)
            if lo_ < hi_:
                ex.append((lo_, hi_, rows_y[i]))
    for (ri, es, ee) in extra:
        ex.append((es, ee, rows_y[ri]))
    if ex:
        edf = pd.DataFrame(ex, columns=['st', 'en', 'y'])
        layers.append(alt.Chart(edf).mark_rule(color=GENE_C, strokeWidth=2.4)
                      .encode(x=X('st'), x2='en', y=Y('y')))
    gdf = pd.DataFrame({'st': [gene[0]], 'en': [gene[1]], 'y': [bv(L['gene_y'])], 'name': [L['name']],
                        'tip': [gene[1] if L['strand'] == 'right' else gene[0]], 'ty': [bv(L['gene_y'] - 3)]})
    layers.append(alt.Chart(gdf).mark_rule(color=GENE_C, strokeWidth=4.5).encode(x=X('st'), x2='en', y=Y('y')))
    layers.append(alt.Chart(gdf).mark_text(align='right', baseline='middle', dx=-5, fontSize=10,
                                           fontWeight='bold', color='#243a5e')
                  .encode(x=X('st'), y=Y('y'), text='name:N'))
    layers.append(alt.Chart(gdf).mark_point(shape='triangle-right' if L['strand'] == 'right' else 'triangle-left',
                                            filled=True, size=22, color=GENE_C, opacity=1)
                  .encode(x=X('tip'), y=Y('ty')))

    if other:
        odf = pd.DataFrame({'st': [o[0] for o in other], 'en': [o[1] for o in other],
                            'y': [bv(L['lanes'][o[2]]) for o in other], 'w': [o[3] for o in other]})
        layers.append(alt.Chart(odf).mark_rule(color=OTHER_C)
                      .encode(x=X('st'), x2='en', y=Y('y'), strokeWidth=alt.StrokeWidth('w:Q', scale=None)))
    if islands:
        idf = pd.DataFrame({'st': [t[0] for t in islands], 'en': [t[1] for t in islands],
                            'y': [bv(L['isl_y'])] * len(islands)})
        layers.append(alt.Chart(idf).mark_rule(color=ISL_C, strokeWidth=4).encode(x=X('st'), x2='en', y=Y('y')))

    # ---- dense CpG dinucleotide stretches
    rdf = pd.DataFrame({'st': [r[0] for r in cpg_runs], 'en': [r[1] for r in cpg_runs],
                        'y': [bv((c0 + c1) / 2)] * len(cpg_runs)})
    layers.append(alt.Chart(rdf).mark_rule(color=CPG_C, strokeWidth=c1 - c0, strokeDash=[1.2, 2.6])
                  .encode(x=X('st'), x2='en', y=Y('y')))

    return alt.layer(*layers).resolve_axis(x='independent', y='independent').properties(width=W, height=H)


pa = build('a', A_POS, A_TUMOR, A_NORMAL, A_TUMOR_ERR, A_NORMAL_ERR, A_SEG, A_PROBES, A_STARS, A_TX, A_EXONS,
           A_EXTRA, A_GENE, A_ISLANDS, A_OTHER, A_CPG, A_CPG_RUNS, A_TICKS)
pb = build('b', B_POS, B_TUMOR, B_NORMAL, B_TUMOR_ERR, B_NORMAL_ERR, B_SEG, B_PROBES, B_STARS, B_TX, B_EXONS,
           B_EXTRA, B_GENE, B_ISLANDS, B_OTHER, B_CPG, B_CPG_RUNS, B_TICKS)
pc = build('c', C_POS, C_TUMOR, C_NORMAL, C_TUMOR_ERR, C_NORMAL_ERR, C_SEG, C_PROBES, C_STARS, C_TX, C_EXONS,
           C_EXTRA, C_GENE, C_ISLANDS, C_OTHER, C_CPG, C_CPG_RUNS, C_TICKS)
pd_ = build('d', D_POS, D_TUMOR, D_NORMAL, D_TUMOR_ERR, D_NORMAL_ERR, D_SEG, D_PROBES, D_STARS, D_TX, D_EXONS,
            D_EXTRA, D_GENE, D_ISLANDS, D_OTHER, D_CPG, D_CPG_RUNS, D_TICKS)
pe = build('e', E_POS, E_TUMOR, E_NORMAL, E_TUMOR_ERR, E_NORMAL_ERR, E_SEG, E_PROBES, E_STARS, E_TX, E_EXONS,
           E_EXTRA, E_GENE, E_ISLANDS, E_OTHER, E_CPG, E_CPG_RUNS, E_TICKS)
pf = build('f', F_POS, F_TUMOR, F_NORMAL, F_TUMOR_ERR, F_NORMAL_ERR, F_SEG, F_PROBES, F_STARS, F_TX, F_EXONS,
           F_EXTRA, F_GENE, F_ISLANDS, F_OTHER, F_CPG, F_CPG_RUNS, F_TICKS)
pg = build('g', G_POS, G_TUMOR, G_NORMAL, G_TUMOR_ERR, G_NORMAL_ERR, G_SEG, G_PROBES, G_STARS, G_TX, G_EXONS,
           G_EXTRA, G_GENE, G_ISLANDS, G_OTHER, G_CPG, G_CPG_RUNS, G_TICKS)
ph = build('h', H_POS, H_TUMOR, H_NORMAL, H_TUMOR_ERR, H_NORMAL_ERR, H_SEG, H_PROBES, H_STARS, H_TX, H_EXONS,
           H_EXTRA, H_GENE, H_ISLANDS, H_OTHER, H_CPG, H_CPG_RUNS, H_TICKS)
pi = build('i', I_POS, I_TUMOR, I_NORMAL, I_TUMOR_ERR, I_NORMAL_ERR, I_SEG, I_PROBES, I_STARS, I_TX, I_EXONS,
           I_EXTRA, I_GENE, I_ISLANDS, I_OTHER, I_CPG, I_CPG_RUNS, I_TICKS)

chart = alt.vconcat(
    alt.hconcat(pa, pb, spacing=0),
    alt.hconcat(pc, pd_, spacing=0),
    alt.hconcat(pe, pf, spacing=0),
    alt.hconcat(pg, ph, spacing=0),
    pi,
    spacing=0,
    padding=0,
).configure(font='Liberation Sans').configure_view(stroke=None)

chart.save("out.html", embed_options={"renderer": "svg", "actions": False})
